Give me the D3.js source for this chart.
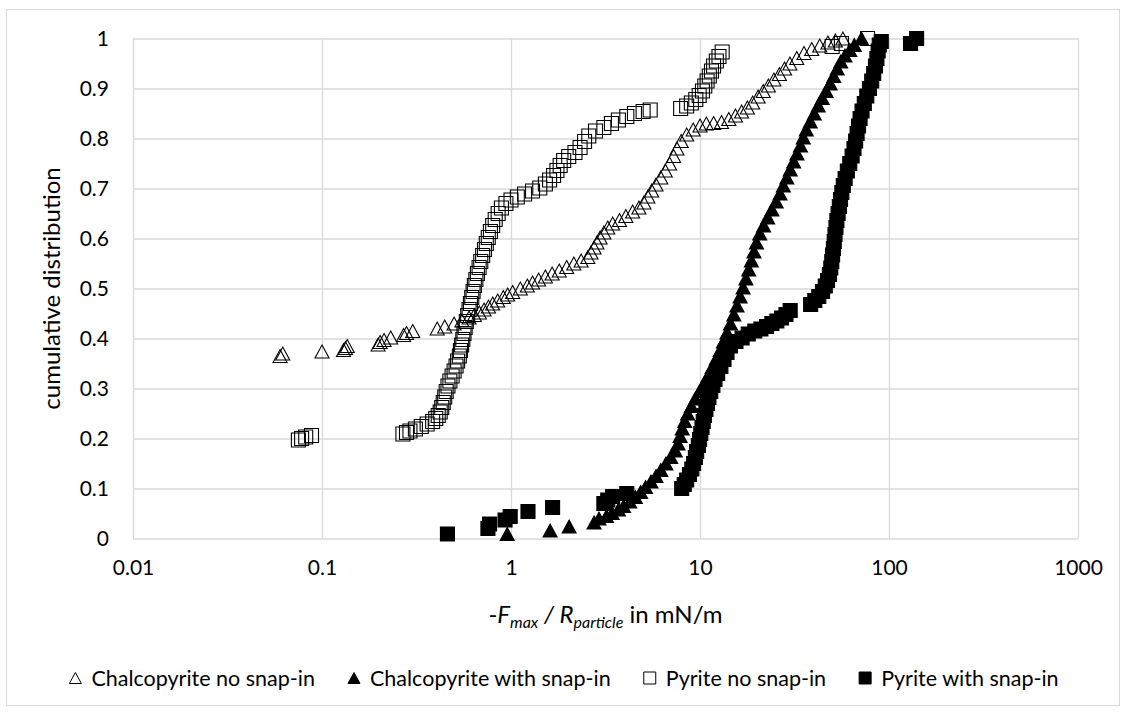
<!DOCTYPE html>
<meta charset="utf-8">
<script src="https://d3js.org/d3.v7.min.js"></script>
<style>
  body { margin: 0; background: #fff; }
  text { font-family: Lato, "Open Sans", sans-serif; fill: #000; }
</style>
<div id="chart"></div>
<script>

// cumulative distributions, [force / radius in mN/m, cumulative fraction]
var chalcopyriteNoSnap = [[0.060,0.365],[0.062,0.370],[0.100,0.374],[0.130,0.377],[0.133,0.381],[0.136,0.385],[0.198,0.388],[0.203,0.393],[0.213,0.397],[0.231,0.402],[0.270,0.407],[0.280,0.411],[0.302,0.415],[0.407,0.420],[0.446,0.424],[0.50,0.430],[0.55,0.436],[0.60,0.442],[0.64,0.447],[0.68,0.452],[0.72,0.458],[0.76,0.464],[0.80,0.470],[0.85,0.476],[0.91,0.483],[0.96,0.488],[1.02,0.493],[1.12,0.500],[1.22,0.506],[1.30,0.512],[1.40,0.518],[1.52,0.524],[1.65,0.530],[1.80,0.536],[1.97,0.543],[2.15,0.550],[2.35,0.556],[2.55,0.563],[2.65,0.572],[2.75,0.582],[2.85,0.592],[2.96,0.602],[3.10,0.612],[3.25,0.622],[3.45,0.630],[3.75,0.637],[4.05,0.645],[4.40,0.654],[4.75,0.662],[5.05,0.672],[5.30,0.684],[5.55,0.696],[5.85,0.708],[6.20,0.722],[6.55,0.736],[6.90,0.750],[7.25,0.765],[7.55,0.780],[7.95,0.795],[8.50,0.808],[9.20,0.818],[10.0,0.826],[10.8,0.830],[11.8,0.831],[13.0,0.833],[14.2,0.839],[15.4,0.846],[16.6,0.854],[17.8,0.862],[19.0,0.872],[20.3,0.884],[21.6,0.895],[23.0,0.906],[24.6,0.918],[26.3,0.929],[28.0,0.940],[29.9,0.950],[32.5,0.961],[35.5,0.971],[39.0,0.979],[43.0,0.986],[47.5,0.992],[52.0,0.996],[57.0,1.0]];

var chalcopyriteSnap = [[0.955,0.009],[1.61,0.016],[2.03,0.024],[2.75,0.032],[2.92,0.040],[3.20,0.045],[3.43,0.051],[3.70,0.058],[3.94,0.065],[4.25,0.074],[4.55,0.083],[4.85,0.093],[5.15,0.103],[5.50,0.114],[5.85,0.125],[6.20,0.137],[6.60,0.150],[7.00,0.163],[7.40,0.176],[7.65,0.190],[7.85,0.205],[8.05,0.220],[8.30,0.235],[8.60,0.250],[9.00,0.265],[9.45,0.280],[9.95,0.295],[10.5,0.310],[11.0,0.325],[11.6,0.343],[12.2,0.360],[12.8,0.377],[13.3,0.394],[13.9,0.412],[14.5,0.430],[15.1,0.448],[15.7,0.466],[16.3,0.484],[16.9,0.502],[17.5,0.520],[18.1,0.538],[18.7,0.556],[19.3,0.574],[19.9,0.592],[20.7,0.610],[21.7,0.626],[22.8,0.642],[24.0,0.658],[25.3,0.674],[26.5,0.690],[27.6,0.706],[28.8,0.722],[30.0,0.738],[31.3,0.754],[32.6,0.770],[34.0,0.786],[35.2,0.802],[36.5,0.818],[38.3,0.834],[40.2,0.850],[42.2,0.866],[44.3,0.881],[46.5,0.895],[48.8,0.910],[51.0,0.925],[53.2,0.940],[55.5,0.954],[58.5,0.966],[62.0,0.977],[65.5,0.987],[71.5,1.0]];

var pyriteNoSnap = [[0.075,0.197],[0.078,0.200],[0.082,0.203],[0.088,0.206],[0.268,0.209],[0.280,0.212],[0.292,0.215],[0.312,0.219],[0.335,0.224],[0.360,0.229],[0.385,0.234],[0.400,0.240],[0.412,0.246],[0.422,0.253],[0.430,0.262],[0.438,0.272],[0.446,0.283],[0.454,0.294],[0.464,0.305],[0.475,0.315],[0.488,0.325],[0.500,0.335],[0.512,0.345],[0.522,0.355],[0.533,0.365],[0.540,0.376],[0.548,0.387],[0.556,0.398],[0.564,0.410],[0.572,0.422],[0.580,0.434],[0.590,0.446],[0.600,0.458],[0.610,0.470],[0.620,0.482],[0.630,0.494],[0.640,0.506],[0.652,0.518],[0.664,0.530],[0.678,0.542],[0.692,0.554],[0.708,0.566],[0.724,0.578],[0.740,0.590],[0.758,0.602],[0.778,0.614],[0.800,0.626],[0.825,0.638],[0.855,0.650],[0.890,0.661],[0.940,0.670],[1.00,0.677],[1.08,0.683],[1.18,0.689],[1.30,0.695],[1.42,0.701],[1.52,0.709],[1.60,0.717],[1.68,0.726],[1.75,0.736],[1.82,0.746],[1.90,0.756],[2.02,0.764],[2.18,0.772],[2.32,0.782],[2.45,0.794],[2.58,0.805],[2.80,0.815],[3.10,0.822],[3.40,0.830],[3.70,0.837],[4.10,0.844],[4.50,0.850],[5.00,0.854],[5.45,0.857],[7.90,0.860],[8.50,0.865],[9.00,0.871],[9.50,0.878],[9.90,0.886],[10.3,0.895],[10.6,0.905],[10.9,0.915],[11.2,0.925],[11.5,0.935],[11.8,0.945],[12.2,0.955],[12.6,0.964],[13.1,0.973],[50,0.984],[56,0.990],[77,1.0]];

var pyriteSnap = [[0.461,0.009],[0.755,0.020],[0.770,0.029],[0.930,0.037],[0.990,0.044],[1.23,0.054],[1.66,0.062],[3.10,0.070],[3.25,0.077],[3.45,0.084],[4.10,0.090],[8.00,0.100],[8.25,0.108],[8.50,0.117],[8.80,0.128],[9.05,0.139],[9.25,0.150],[9.45,0.162],[9.60,0.174],[9.80,0.186],[9.95,0.198],[10.1,0.210],[10.25,0.222],[10.4,0.234],[10.55,0.246],[10.75,0.258],[10.95,0.270],[11.15,0.282],[11.4,0.294],[11.7,0.306],[12.0,0.318],[12.4,0.330],[12.9,0.344],[13.4,0.358],[13.9,0.372],[14.5,0.385],[15.5,0.394],[16.7,0.401],[18.0,0.409],[19.5,0.415],[21.0,0.419],[22.5,0.424],[24.0,0.430],[25.5,0.435],[27.0,0.441],[28.5,0.448],[30.0,0.456],[38.5,0.468],[40.5,0.476],[42.5,0.484],[44.5,0.494],[46.0,0.505],[47.3,0.516],[48.4,0.528],[49.2,0.541],[49.8,0.554],[50.3,0.567],[50.8,0.580],[51.3,0.594],[51.8,0.608],[52.4,0.622],[53.0,0.636],[53.8,0.650],[54.6,0.664],[55.4,0.678],[56.3,0.692],[57.3,0.706],[58.6,0.720],[60.2,0.735],[62.0,0.750],[63.8,0.765],[65.3,0.780],[66.6,0.795],[67.8,0.810],[69.0,0.825],[70.3,0.840],[72.0,0.855],[74.0,0.870],[76.3,0.885],[78.8,0.900],[81.0,0.915],[83.0,0.930],[84.8,0.945],[86.3,0.960],[87.6,0.975],[88.8,0.987],[91.0,0.994],[130,0.990],[140,1.0]];

var seriesNames = ["Chalcopyrite no snap-in", "Chalcopyrite with snap-in", "Pyrite no snap-in", "Pyrite with snap-in"];
var xTicks = [0.01, 0.1, 1, 10, 100, 1000];
var yTicks = [0, 0.1, 0.2, 0.3, 0.4, 0.5, 0.6, 0.7, 0.8, 0.9, 1];

var series = [
  {name: seriesNames[0], data: chalcopyriteNoSnap, shape: "tri", filled: false},
  {name: seriesNames[1], data: chalcopyriteSnap, shape: "tri", filled: true},
  {name: seriesNames[2], data: pyriteNoSnap, shape: "sq", filled: false},
  {name: seriesNames[3], data: pyriteSnap, shape: "sq", filled: true}
];

var W = 1128, H = 715;
var margin = {top: 38.5, right: 50, bottom: 176.5, left: 133},
    width = W - margin.left - margin.right,
    height = H - margin.top - margin.bottom;

var svg = d3.select("#chart")
  .append("svg")
    .attr("width", W)
    .attr("height", H);

// chart frame
svg.append("rect")
  .attr("x", 6.5).attr("y", 9.5)
  .attr("width", 1113).attr("height", 696)
  .attr("fill", "#fff")
  .attr("stroke", "#d9d9d9");

var g = svg.append("g")
  .attr("transform", "translate(" + margin.left + "," + margin.top + ")");

var x = d3.scaleLog().domain([0.01, 1000]).range([0, width]);
var y = d3.scaleLinear().domain([0, 1]).range([height, 0]);

// axes with gridlines
var xAxis = g.append("g")
  .attr("transform", "translate(0," + height + ")")
  .call(d3.axisBottom(x).tickValues(xTicks).tickSize(-height).tickPadding(22)
    .tickFormat(d3.format("~g")));
var yAxis = g.append("g")
  .call(d3.axisLeft(y).tickValues(yTicks).tickSize(-width).tickPadding(24)
    .tickFormat(d3.format("~g")));

[xAxis, yAxis].forEach(function(a) {
  a.select(".domain").remove();
  a.selectAll("line").attr("stroke", "#d9d9d9").attr("stroke-width", 1.3);
  a.selectAll("text").style("font-size", "21px").style("font-family", "Lato, sans-serif").attr("fill", "#000");
});

// marker shapes
function shapePath(shape, s) {
  if (shape === "tri") {
    var h = s * 0.46;
    return "M0," + (-h) + "L" + (s / 2) + "," + h + "L" + (-s / 2) + "," + h + "Z";
  }
  return d3.symbol().type(d3.symbolSquare).size(s * s)();
}

series.forEach(function(sr) {
  g.append("g").selectAll("path")
    .data(sr.data)
    .enter()
    .append("path")
      .attr("transform", function(d) { return "translate(" + x(d[0]) + "," + y(d[1]) + ")"; })
      .attr("d", shapePath(sr.shape, 14))
      .attr("fill", sr.filled ? "#000" : "none")
      .attr("stroke", "#000")
      .attr("stroke-width", 1.1);
});

// axis titles
svg.append("text")
  .attr("transform", "translate(52," + (margin.top + height / 2) + ") rotate(-90)")
  .attr("text-anchor", "middle")
  .attr("dy", "0.35em")
  .style("font-size", "24px")
  .text("cumulative distribution");

var xt = svg.append("text")
  .attr("x", margin.left + width / 2)
  .attr("y", 623)
  .attr("text-anchor", "middle")
  .style("font-size", "24px");
xt.append("tspan").text("-");
xt.append("tspan").style("font-style", "italic").text("F");
xt.append("tspan").style("font-style", "italic").style("font-size", "16px").attr("dy", 5).text("max");
xt.append("tspan").style("font-style", "italic").attr("dy", -5).text(" / R");
xt.append("tspan").style("font-style", "italic").style("font-size", "16px").attr("dy", 5).text("particle");
xt.append("tspan").attr("dy", -5).text(" in mN/m");

// legend
var legend = svg.append("g");
var lx = 0;
series.forEach(function(sr) {
  var item = legend.append("g").attr("transform", "translate(" + lx + ",0)");
  item.append("path")
    .attr("transform", "translate(6,0)")
    .attr("d", shapePath(sr.shape, 12))
    .attr("fill", sr.filled ? "#000" : "none")
    .attr("stroke", "#000")
    .attr("stroke-width", 1);
  var t = item.append("text")
    .attr("x", 22)
    .attr("dy", "0.35em")
    .style("font-size", "21.5px")
    .text(sr.name);
  lx += 22 + t.node().getComputedTextLength() + 33;
});
lx -= 33;
legend.attr("transform", "translate(" + (564 - lx / 2) + ",678)");

</script>
